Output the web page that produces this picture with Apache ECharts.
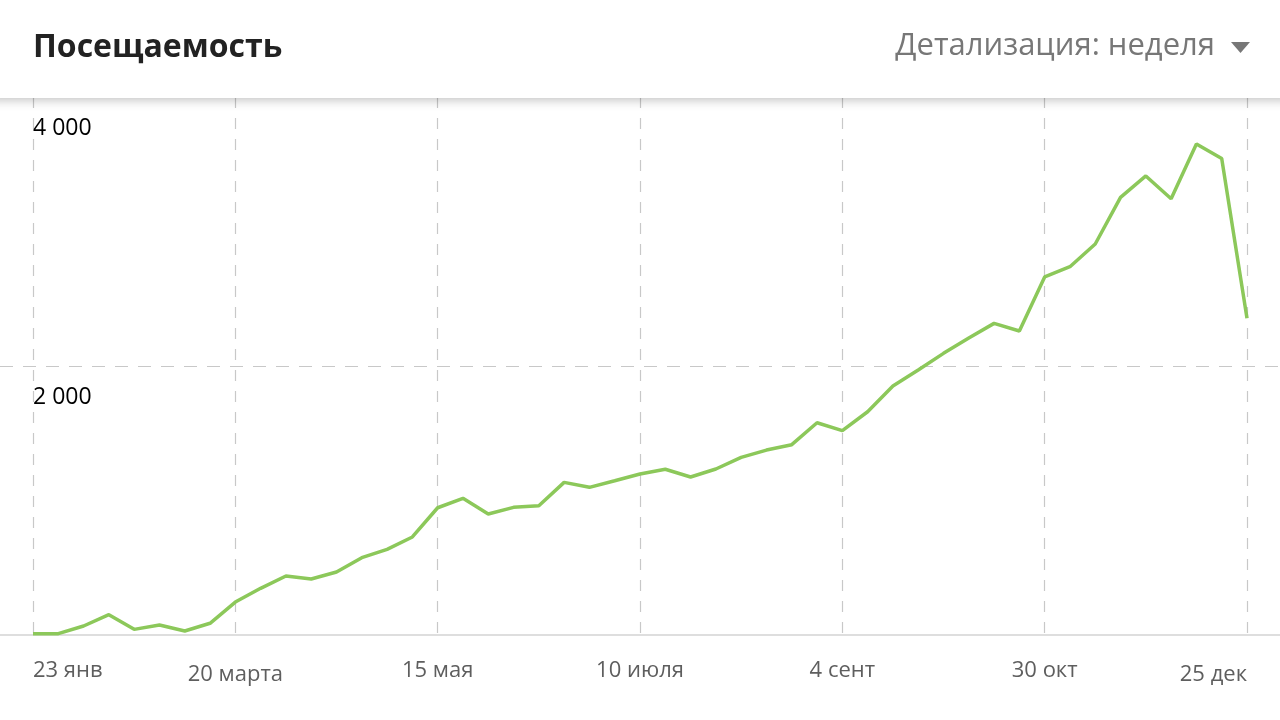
<!DOCTYPE html>
<html>
<head>
<meta charset="utf-8">
<script src="https://cdn.jsdelivr.net/npm/echarts@6/dist/echarts.min.js"></script>
<style>
html,body{margin:0;padding:0;background:#fff;}
#chart{width:1280px;height:720px;}
</style>
</head>
<body>
<div id="chart"></div>
<script>
var categories = ["23 янв","30 янв","6 фев","13 фев","20 фев","27 фев","6 марта","13 марта","20 марта","27 марта","3 апр","10 апр","17 апр","24 апр","1 мая","8 мая","15 мая","22 мая","29 мая","5 июня","12 июня","19 июня","26 июня","3 июля","10 июля","17 июля","24 июля","31 июля","7 авг","14 авг","21 авг","28 авг","4 сент","11 сент","18 сент","25 сент","2 окт","9 окт","16 окт","23 окт","30 окт","6 нояб","13 нояб","20 нояб","27 нояб","4 дек","11 дек","18 дек","25 дек"];
var visits = [10,10,67,151,42,74,30,87,245,347,439,416,468,575,637,729,946,1016,900,949,961,1135,1098,1147,1197,1232,1175,1234,1321,1375,1415,1578,1520,1660,1851,1970,2094,2208,2317,2260,2662,2738,2907,3254,3413,3244,3651,3542,2355];
var yTicks = [0,2000,4000];
var titleText = "Посещаемость";
var detailText = "Детализация: неделя";
var lowLabels = ["20 марта","25 дек"];

var FONT = "'Open Sans', 'Noto Sans', sans-serif";
var chart = echarts.init(document.getElementById('chart'));
chart.setOption({
  animation:false,
  backgroundColor:'#fff',
  grid:[
    {left:33,right:33,top:97,bottom:85},
    {left:0,right:0,top:97,bottom:85}
  ],
  xAxis:[
    {gridIndex:0,type:'category',data:categories,boundaryGap:false,
     axisLine:{show:false},axisTick:{show:false},
     axisLabel:{interval:7,margin:23,color:'#5e5e5e',fontSize:22,fontFamily:FONT,
       alignMinLabel:'left',alignMaxLabel:'right',
       formatter:function(v){return lowLabels.indexOf(v)>=0?'{lo|'+v+'}':'{n|'+v+'}';},
       rich:{n:{fontSize:22,color:'#5e5e5e',fontFamily:FONT,lineHeight:26},
             lo:{fontSize:22,color:'#5e5e5e',fontFamily:FONT,lineHeight:26,padding:[8,0,0,0]}}},
     splitLine:{show:true,interval:7,lineStyle:{color:'#c8c8c8',width:1.2,type:[11,10]}}},
    {gridIndex:1,type:'value',min:0,max:1,
     axisLine:{show:true,lineStyle:{color:'#dedede',width:2}},
     axisTick:{show:false},axisLabel:{show:false},splitLine:{show:false}}
  ],
  yAxis:[
    {gridIndex:0,type:'value',min:yTicks[0],max:yTicks[2],interval:yTicks[1]-yTicks[0],
     axisLine:{show:false},axisTick:{show:false},splitLine:{show:false},
     axisLabel:{inside:true,showMinLabel:false,margin:0,align:'left',verticalAlign:'top',
       padding:[20,0,0,0],color:'#000',fontSize:23,fontFamily:FONT,
       formatter:function(v){return String(v).replace(/\B(?=(\d{3})+(?!\d))/g,' ');}}},
    {gridIndex:1,type:'value',min:yTicks[0],max:yTicks[2],interval:yTicks[1]-yTicks[0],
     axisLine:{show:false},axisTick:{show:false},axisLabel:{show:false},
     splitLine:{show:true,lineStyle:{color:'#c8c8c8',width:1.2,type:[13,10]}}}
  ],
  series:[
    {type:'line',xAxisIndex:0,yAxisIndex:0,data:visits,symbol:'none',
     lineStyle:{color:'#8cc85a',width:3.5},z:3}
  ],
  graphic:[
    {type:'rect',z:100,shape:{x:-10,y:-10,width:1300,height:108},
     style:{fill:'#fff',shadowBlur:10,shadowOffsetY:2,shadowColor:'rgba(0,0,0,0.25)'}},
    {type:'text',z:101,
     style:{x:33,y:48,text:titleText,fill:'#222',font:"bold 32px 'Open Sans', 'Noto Sans', sans-serif",verticalAlign:'middle',align:'left'}},
    {type:'text',z:101,
     style:{x:1215,y:46,text:detailText,fill:'#777',font:"31px 'Open Sans', 'Noto Sans', sans-serif",verticalAlign:'middle',align:'right'}},
    {type:'polygon',z:101,shape:{points:[[1231,42],[1250,42],[1240.5,53]]},style:{fill:'#777'}}
  ]
});
</script>
</body>
</html>
